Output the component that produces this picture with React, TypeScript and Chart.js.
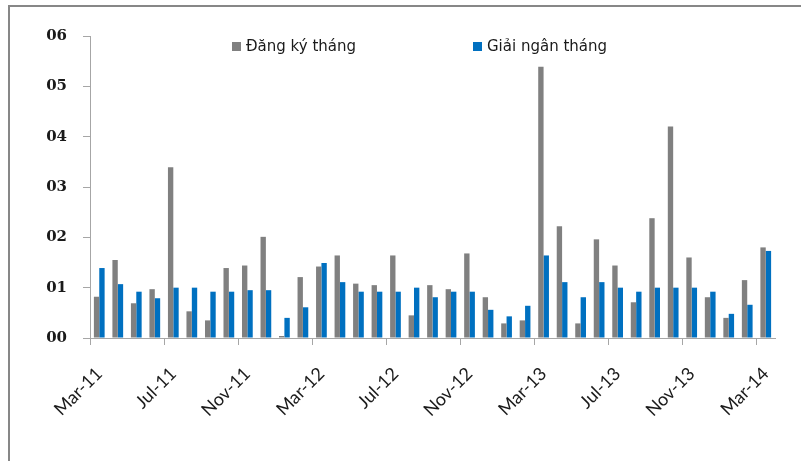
import React, { useEffect, useRef } from "react";
import { Chart, registerables } from "chart.js";

Chart.register(...registerables);

const months: string[] = [
  "Mar-11", "Apr-11", "May-11", "Jun-11", "Jul-11", "Aug-11", "Sep-11", "Oct-11", "Nov-11", "Dec-11",
  "Jan-12", "Feb-12", "Mar-12", "Apr-12", "May-12", "Jun-12", "Jul-12", "Aug-12", "Sep-12", "Oct-12",
  "Nov-12", "Dec-12", "Jan-13", "Feb-13", "Mar-13", "Apr-13", "May-13", "Jun-13", "Jul-13", "Aug-13",
  "Sep-13", "Oct-13", "Nov-13", "Dec-13", "Jan-14", "Feb-14", "Mar-14",
];

// Đăng ký tháng (monthly registered)
const registered: number[] = [
  0.82, 1.55, 0.69, 0.97, 3.39, 0.53, 0.35, 1.39, 1.44, 2.01,
  0.04, 1.21, 1.42, 1.64, 1.08, 1.05, 1.64, 0.45, 1.05, 0.97,
  1.68, 0.81, 0.29, 0.35, 5.39, 2.22, 0.29, 1.96, 1.44, 0.71,
  2.38, 4.2, 1.6, 0.81, 0.4, 1.15, 1.8,
];

// Giải ngân tháng (monthly disbursed)
const disbursed: number[] = [
  1.39, 1.07, 0.92, 0.79, 1.0, 1.0, 0.92, 0.92, 0.95, 0.95,
  0.4, 0.61, 1.49, 1.11, 0.92, 0.92, 0.92, 1.0, 0.81, 0.92,
  0.92, 0.56, 0.43, 0.64, 1.64, 1.11, 0.81, 1.11, 1.0, 0.92,
  1.0, 1.0, 1.0, 0.92, 0.48, 0.66, 1.73,
];

const seriesNames: string[] = ["Đăng ký tháng", "Giải ngân tháng"];
const seriesColors: string[] = ["#808080", "#0070C0"];
const yTicks: number[] = [0, 1, 2, 3, 4, 5, 6];

const AXIS = "#a6a6a6";

// Legend drawn inside the plot, near the top
const insideLegend = {
  id: "insideLegend",
  afterDraw(chart: Chart) {
    const { ctx } = chart;
    const items = [
      { x: 232, label: seriesNames[0], color: seriesColors[0] },
      { x: 473, label: seriesNames[1], color: seriesColors[1] },
    ];
    ctx.save();
    ctx.font = '15px "DejaVu Sans"';
    ctx.textBaseline = "middle";
    ctx.textAlign = "left";
    for (const it of items) {
      ctx.fillStyle = it.color;
      ctx.fillRect(it.x, 42, 9, 9);
      ctx.fillStyle = "#1a1a1a";
      ctx.fillText(it.label, it.x + 14, 47);
    }
    ctx.restore();
  },
};

export default function App() {
  const canvasRef = useRef<HTMLCanvasElement | null>(null);

  useEffect(() => {
    if (!canvasRef.current) return;
    const chart = new Chart(canvasRef.current, {
      type: "bar",
      data: {
        labels: months,
        datasets: [
          {
            label: seriesNames[0],
            data: registered,
            backgroundColor: seriesColors[0],
            borderWidth: 0,
          },
          {
            label: seriesNames[1],
            data: disbursed,
            backgroundColor: seriesColors[1],
            borderWidth: 0,
          },
        ],
      },
      options: {
        animation: false,
        responsive: true,
        maintainAspectRatio: false,
        datasets: {
          bar: { categoryPercentage: 0.58, barPercentage: 1 },
        },
        layout: { padding: { top: 36, right: 34, left: 0, bottom: 0 } },
        plugins: {
          legend: { display: false },
          tooltip: { enabled: false },
        },
        scales: {
          x: {
            type: "category",
            offset: true,
            grid: {
              offset: true,
              drawOnChartArea: false,
              drawTicks: true,
              tickLength: 7,
              color: (c: any) =>
                c.index !== undefined && c.index % 4 === 0 ? AXIS : "rgba(0,0,0,0)",
            },
            border: { color: AXIS, width: 1 },
            ticks: {
              autoSkip: false,
              maxRotation: 45,
              minRotation: 45,
              padding: 18,
              color: "#1a1a1a",
              font: { family: "Lato", size: 18 },
              callback: (_v: any, i: number) => (i % 4 === 0 ? months[i] : ""),
            },
            afterFit: (s: any) => {
              s.height = 123;
            },
          },
          y: {
            min: 0,
            max: 6,
            afterBuildTicks: (s: any) => {
              s.ticks = yTicks.map((v) => ({ value: v }));
            },
            grid: {
              drawOnChartArea: false,
              drawTicks: true,
              tickLength: 7,
              color: AXIS,
            },
            border: { color: AXIS, width: 1 },
            ticks: {
              padding: 16,
              color: "#1a1a1a",
              font: { family: "DejaVu Serif", size: 15, weight: "bold" },
              callback: (v: any) => String(v).padStart(2, "0"),
            },
            afterFit: (s: any) => {
              s.width = 90;
            },
          },
        },
      },
      plugins: [insideLegend],
    });
    return () => chart.destroy();
  }, []);

  return (
    <div
      style={{
        position: "fixed",
        left: 0,
        top: 0,
        width: 809,
        height: 461,
        overflow: "hidden",
        background: "#ffffff",
      }}
    >
      <div
        style={{
          position: "absolute",
          left: 8,
          top: 5,
          width: 791,
          height: 500,
          borderTop: "2px solid #878787",
          borderLeft: "2px solid #878787",
        }}
      />
      <div style={{ position: "absolute", left: 0, top: 0, width: 809, height: 461 }}>
        <canvas ref={canvasRef} />
      </div>
    </div>
  );
}
